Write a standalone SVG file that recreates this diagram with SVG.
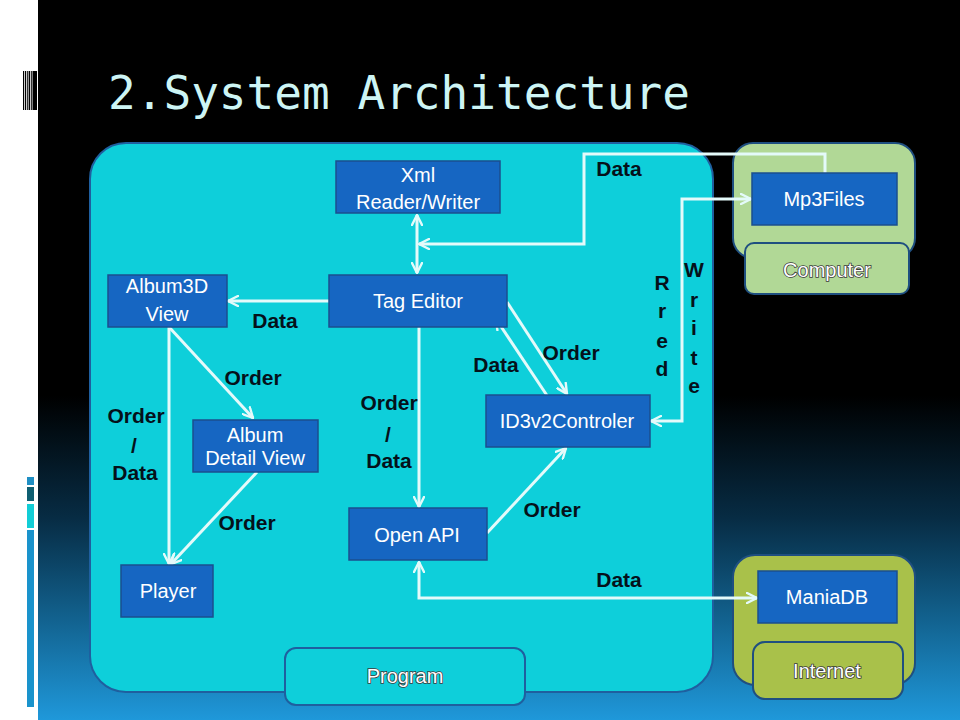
<svg xmlns="http://www.w3.org/2000/svg" width="960" height="720" viewBox="0 0 960 720">
<defs>
<linearGradient id="bg" x1="0" y1="0" x2="0" y2="720" gradientUnits="userSpaceOnUse">
<stop offset="0" stop-color="#000000"/>
<stop offset="0.55" stop-color="#000000"/>
<stop offset="0.72" stop-color="#072c44"/>
<stop offset="0.86" stop-color="#12628f"/>
<stop offset="1" stop-color="#1f98da"/>
</linearGradient>
<marker id="arr" viewBox="0 0 12 12" refX="11" refY="6" markerWidth="12" markerHeight="12" markerUnits="userSpaceOnUse" orient="auto-start-reverse">
<path d="M1,1 L11,6 L1,11" fill="none" stroke="#e4fafa" stroke-width="2.4" stroke-linecap="round" stroke-linejoin="round"/>
</marker>
<style>
.node{fill:#1666c2;stroke:#1b4f8e;stroke-width:1.5}
.nt{font-family:"Liberation Sans",Arial,sans-serif;font-size:20px;fill:#ffffff;text-anchor:middle}
.lbl{font-family:"Liberation Sans",Arial,sans-serif;font-size:21px;font-weight:bold;fill:#05111a;text-anchor:middle}
.ol{font-family:"Liberation Sans",Arial,sans-serif;font-size:20px;fill:#ffffff;stroke:#3a3a3a;stroke-width:1.6;paint-order:stroke;text-anchor:middle}
.con{fill:none;stroke:#e4fafa;stroke-width:3}
</style>
</defs>
<rect x="0" y="0" width="960" height="720" fill="url(#bg)"/>
<rect x="0" y="0" width="38" height="720" fill="#ffffff"/>
<g id="barcode" fill="#000000">
<rect x="23" y="71" width="1.2" height="39"/>
<rect x="25" y="71" width="1" height="39"/>
<rect x="26.8" y="71" width="1" height="39"/>
<rect x="28.6" y="71" width="1.4" height="39"/>
<rect x="30.8" y="71" width="1" height="39"/>
<rect x="32.5" y="71" width="4.5" height="39"/>
</g>
<g id="sidebars">
<rect x="27" y="477" width="7" height="8" fill="#1f8fc4"/>
<rect x="27" y="487" width="7" height="14" fill="#0f5f72"/>
<rect x="27" y="504" width="7" height="24" fill="#12cdd6"/>
<rect x="27" y="530" width="7" height="177" fill="#1a93cc"/>
</g>
<text x="108" y="109" font-family="'DejaVu Sans Mono','Liberation Mono',monospace" font-size="47" fill="#cdf5f5" textLength="582" lengthAdjust="spacingAndGlyphs">2.System Architecture</text>

<g id="program-area">
<rect x="90" y="143" width="623" height="549" rx="36" fill="#0ecfda" stroke="#1f5f9f" stroke-width="2"/>
</g>
<g id="computer-area">
<rect x="733" y="143" width="182" height="115" rx="20" fill="#b1d896" stroke="#1f4f80" stroke-width="2"/>
</g>
<g id="internet-area">
<rect x="733" y="555" width="182" height="130" rx="22" fill="#a9c14a" stroke="#1f4f80" stroke-width="2"/>
</g>

<g id="connectors">
<line class="con" x1="417" y1="215" x2="417" y2="273" marker-start="url(#arr)" marker-end="url(#arr)"/>
<polyline class="con" points="825,173 825,154 584,154 584,244 419,244" marker-end="url(#arr)"/>
<polyline class="con" points="651,421 682,421 682,199 751,199" marker-start="url(#arr)" marker-end="url(#arr)"/>
<line class="con" x1="329" y1="301" x2="228" y2="301" marker-end="url(#arr)"/>
<line class="con" x1="169" y1="327" x2="169" y2="564" marker-end="url(#arr)"/>
<line class="con" x1="169" y1="327" x2="253" y2="418" marker-end="url(#arr)"/>
<line class="con" x1="257" y1="472" x2="171" y2="564" marker-end="url(#arr)"/>
<line class="con" x1="419" y1="327" x2="419" y2="507" marker-end="url(#arr)"/>
<line class="con" x1="487" y1="533" x2="566" y2="448" marker-end="url(#arr)"/>
<line class="con" x1="507" y1="302" x2="567" y2="394" marker-end="url(#arr)"/>
<line class="con" x1="548" y1="397" x2="496" y2="319" marker-end="url(#arr)"/>
<polyline class="con" points="419,562 419,598 757,598" marker-start="url(#arr)" marker-end="url(#arr)"/>
</g>

<g id="n-xml"><rect class="node" x="336" y="161" width="164" height="52"/><text class="nt" x="418" y="182">Xml</text><text class="nt" x="418" y="209">Reader/Writer</text></g>
<g id="n-mp3"><rect class="node" x="752" y="173" width="145" height="52"/><text class="nt" x="824" y="206">Mp3Files</text></g>
<g id="n-computer"><rect x="745" y="243" width="164" height="51" rx="9" fill="#b1d896" stroke="#1f4f80" stroke-width="2"/><text class="ol" x="827" y="277">Computer</text></g>
<g id="n-album3d"><rect class="node" x="108" y="275" width="119" height="52"/><text class="nt" x="167" y="293">Album3D</text><text class="nt" x="167" y="321">View</text></g>
<g id="n-tag"><rect class="node" x="329" y="275" width="178" height="52"/><text class="nt" x="418" y="308">Tag Editor</text></g>
<g id="n-detail"><rect class="node" x="193" y="420" width="125" height="52"/><text class="nt" x="255" y="442" font-size="17">Album</text><text class="nt" x="255" y="465" font-size="17">Detail View</text></g>
<g id="n-id3"><rect class="node" x="486" y="395" width="164" height="52"/><text class="nt" x="567" y="428">ID3v2Controler</text></g>
<g id="n-openapi"><rect class="node" x="349" y="508" width="138" height="52"/><text class="nt" x="417" y="542">Open API</text></g>
<g id="n-player"><rect class="node" x="121" y="565" width="92" height="52"/><text class="nt" x="168" y="598">Player</text></g>
<g id="n-maniadb"><rect class="node" x="758" y="571" width="139" height="52"/><text class="nt" x="827" y="604">ManiaDB</text></g>
<g id="n-internet"><rect x="753" y="642" width="150" height="57" rx="12" fill="#a9c14a" stroke="#1f4f80" stroke-width="2"/><text class="ol" x="827" y="678">Internet</text></g>
<g id="n-program"><rect x="285" y="648" width="240" height="57" rx="11" fill="#0ecfda" stroke="#1f5f9f" stroke-width="2"/><text class="ol" x="405" y="683">Program</text></g>

<g id="labels">
<text class="lbl" x="619" y="176">Data</text>
<text class="lbl" x="275" y="328">Data</text>
<text class="lbl" x="253" y="385">Order</text>
<text class="lbl" x="136" y="423">Order</text>
<text class="lbl" x="134" y="453">/</text>
<text class="lbl" x="135" y="480">Data</text>
<text class="lbl" x="247" y="530">Order</text>
<text class="lbl" x="389" y="410">Order</text>
<text class="lbl" x="388" y="442">/</text>
<text class="lbl" x="389" y="468">Data</text>
<text class="lbl" x="496" y="372">Data</text>
<text class="lbl" x="571" y="360">Order</text>
<text class="lbl" x="552" y="517">Order</text>
<text class="lbl" x="619" y="587">Data</text>
<text class="lbl" x="662" y="290">R</text>
<text class="lbl" x="662" y="318">r</text>
<text class="lbl" x="662" y="348">e</text>
<text class="lbl" x="662" y="376">d</text>
<text class="lbl" x="694" y="277">W</text>
<text class="lbl" x="694" y="307">r</text>
<text class="lbl" x="694" y="335">i</text>
<text class="lbl" x="694" y="365">t</text>
<text class="lbl" x="694" y="393">e</text>
</g>
</svg>
